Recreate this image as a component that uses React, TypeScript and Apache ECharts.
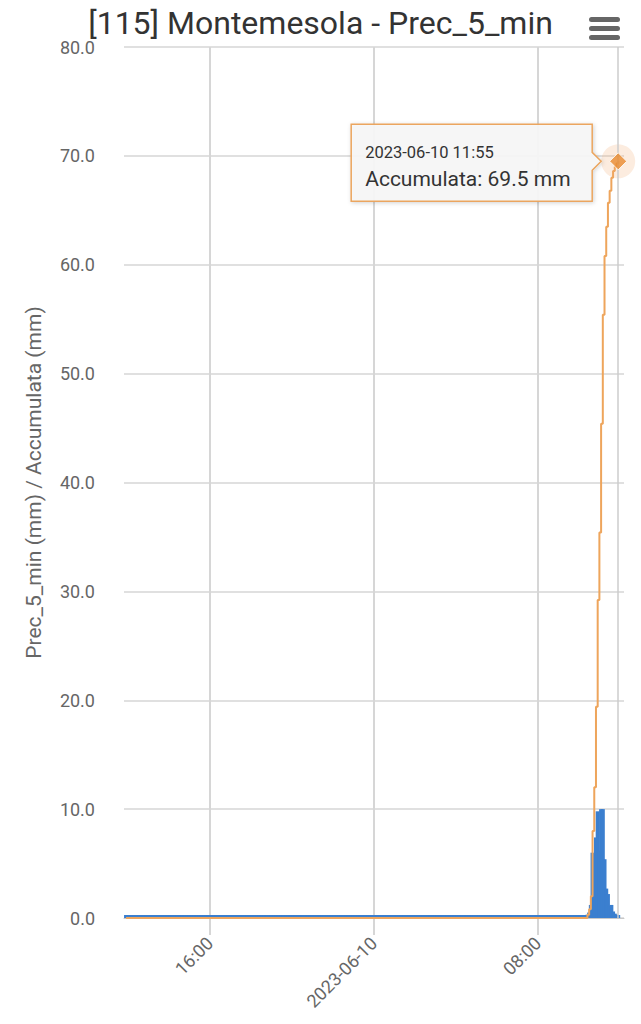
import React, { useEffect, useRef } from "react";
import * as echarts from "echarts";

const chartTitle = "[115] Montemesola - Prec_5_min";
const yAxisTitle = "Prec_5_min (mm) / Accumulata (mm)";
const barName = "Prec_5_min";
const lineName = "Accumulata";
const unit = "mm";

// 5-minute readings: 2023-06-09 11:55 -> 2023-06-10 10:20 are dry (0.0 mm)
const dryCount = 270;
const dryValue = 0;
// 2023-06-10 10:25 -> 11:55
const eventValues = [
  0.3, 0.5, 1.2, 6.0, 4.0, 7.4, 9.8, 6.2, 10.0, 10.0, 5.4, 2.7, 2.2, 1.1, 1.2,
  0.6, 0.4, 0.3, 0.2,
];
const stepMinutes = 5;
const yTickValues = [0, 10, 20, 30, 40, 50, 60, 70, 80];
// x tick positions (local time): 2023-06-09 16:00, 2023-06-10 00:00, 2023-06-10 08:00
const xTickTimes = [
  new Date(2023, 5, 9, 16, 0).getTime(),
  new Date(2023, 5, 10, 0, 0).getTime(),
  new Date(2023, 5, 10, 8, 0).getTime(),
];

const startTime = new Date(2023, 5, 9, 11, 55).getTime();
const axisMin = new Date(2023, 5, 9, 11, 49).getTime();
const axisMax = new Date(2023, 5, 10, 12, 12).getTime();

const pad = (n: number) => (n < 10 ? "0" + n : "" + n);

export default function App() {
  const ref = useRef<HTMLDivElement>(null);
  useEffect(() => {
    if (!ref.current) return;
    const chart = echarts.init(ref.current, null, { renderer: "svg" });
    const precValues: number[] = [];
    for (let i = 0; i < dryCount; i++) precValues.push(dryValue);
    eventValues.forEach((v) => precValues.push(v));
    const times = precValues.map((_, i) => startTime + i * stepMinutes * 60000);
    const barData = precValues.map((v, i) => [times[i], v]);
    let acc = 0;
    const lineData = precValues.map((v, i) => {
      acc = Math.round((acc + v) * 10) / 10;
      return [times[i], acc];
    });
    const last = lineData[lineData.length - 1];
    const fontFamily = "Roboto, 'Noto Sans', sans-serif";
    const grid = "#d6d6d6";

    chart.setOption({
      animation: false,
      textStyle: { fontFamily },
      title: {
        text: chartTitle,
        left: "center",
        top: 2,
        textStyle: { fontSize: 32, fontWeight: "normal", color: "#333333", fontFamily },
      },
      grid: { left: 124, right: 17, top: 47, bottom: 106 },
      xAxis: {
        type: "value",
        min: axisMin,
        max: axisMax,
        axisLine: { show: true, lineStyle: { color: "#c8c8c8", width: 1 } },
        axisTick: {
          show: true,
          length: 17,
          customValues: xTickTimes,
          lineStyle: { color: grid, width: 2 },
        },
        splitLine: { show: true, lineStyle: { color: grid, width: 2 } },
        axisLabel: {
          rotate: 45,
          margin: 22,
          fontSize: 18,
          color: "#666666",
          customValues: xTickTimes,
          formatter: (val: number) => {
            const d = new Date(val);
            if (d.getHours() === 0 && d.getMinutes() === 0)
              return d.getFullYear() + "-" + pad(d.getMonth() + 1) + "-" + pad(d.getDate());
            return pad(d.getHours()) + ":" + pad(d.getMinutes());
          },
        },
      },
      yAxis: {
        type: "value",
        min: yTickValues[0],
        max: yTickValues[yTickValues.length - 1],
        interval: yTickValues[1] - yTickValues[0],
        name: yAxisTitle,
        nameLocation: "middle",
        nameRotate: 90,
        nameGap: 80,
        nameTextStyle: { fontSize: 21, color: "#666666" },
        axisLine: { show: false },
        axisTick: { show: false },
        splitLine: { show: true, lineStyle: { color: grid, width: 1.5 } },
        axisLabel: {
          fontSize: 18,
          color: "#666666",
          margin: 29,
          formatter: (v: number) => v.toFixed(1),
        },
      },
      series: [
        {
          name: barName,
          type: "bar",
          data: barData,
          barWidth: 4,
          barMinHeight: 3,
          itemStyle: { color: "#3b7fcf" },
          z: 2,
        },
        {
          name: lineName,
          type: "line",
          step: "end",
          data: lineData,
          showSymbol: false,
          lineStyle: { color: "#eea55c", width: 2 },
          z: 3,
          markLine: {
            silent: true,
            symbol: ["none", "none"],
            label: { show: false },
            lineStyle: { color: "#cccccc", type: "solid", width: 1.5 },
            data: [{ xAxis: last[0] }],
          },
        },
        {
          type: "scatter",
          data: [last],
          symbol: "circle",
          symbolSize: 34,
          itemStyle: { color: "rgba(240,170,110,0.28)" },
          z: 4,
        },
        {
          type: "scatter",
          data: [last],
          symbol: "diamond",
          symbolSize: 17,
          itemStyle: { color: "#e88b2f", borderColor: "#ffffff", borderWidth: 1 },
          z: 5,
        },
      ],
    });

    const p = chart.convertToPixel({ xAxisIndex: 0, yAxisIndex: 0 }, last) as number[];
    const px = p[0];
    const py = p[1];
    const right = px - 26;
    const left = right - 241;
    const top = py - 37;
    const bottom = py + 40;
    const d = new Date(last[0]);
    const dateText =
      d.getFullYear() + "-" + pad(d.getMonth() + 1) + "-" + pad(d.getDate()) + " " +
      pad(d.getHours()) + ":" + pad(d.getMinutes());

    chart.setOption({
      graphic: [
        {
          type: "polygon",
          z: 100,
          shape: {
            points: [
              [left, top],
              [right, top],
              [right, py - 9],
              [right + 9, py],
              [right, py + 9],
              [right, bottom],
              [left, bottom],
            ],
          },
          style: {
            fill: "rgba(247,247,247,0.92)",
            stroke: "#eba55e",
            lineWidth: 1.5,
            shadowBlur: 4,
            shadowColor: "rgba(0,0,0,0.18)",
            shadowOffsetX: 1,
            shadowOffsetY: 1,
          },
        },
        {
          type: "text",
          z: 101,
          x: left + 14,
          y: py - 9,
          style: {
            text: dateText,
            fontSize: 16.5,
            fill: "#333333",
            fontFamily,
            verticalAlign: "middle",
          },
        },
        {
          type: "text",
          z: 101,
          x: left + 14,
          y: py + 18,
          style: {
            text: lineName + ": " + last[1].toFixed(1) + " " + unit,
            fontSize: 21,
            fill: "#333333",
            fontFamily,
            verticalAlign: "middle",
          },
        },
        { type: "rect", z: 100, shape: { x: 589, y: 17, width: 31, height: 5, r: 2.5 }, style: { fill: "#666666" } },
        { type: "rect", z: 100, shape: { x: 589, y: 26, width: 31, height: 5, r: 2.5 }, style: { fill: "#666666" } },
        { type: "rect", z: 100, shape: { x: 589, y: 35, width: 31, height: 5, r: 2.5 }, style: { fill: "#666666" } },
      ],
    });

    return () => chart.dispose();
  }, []);
  return (
    <div
      ref={ref}
      style={{ position: "absolute", left: 0, top: 0, width: 641, height: 1024 }}
    />
  );
}
